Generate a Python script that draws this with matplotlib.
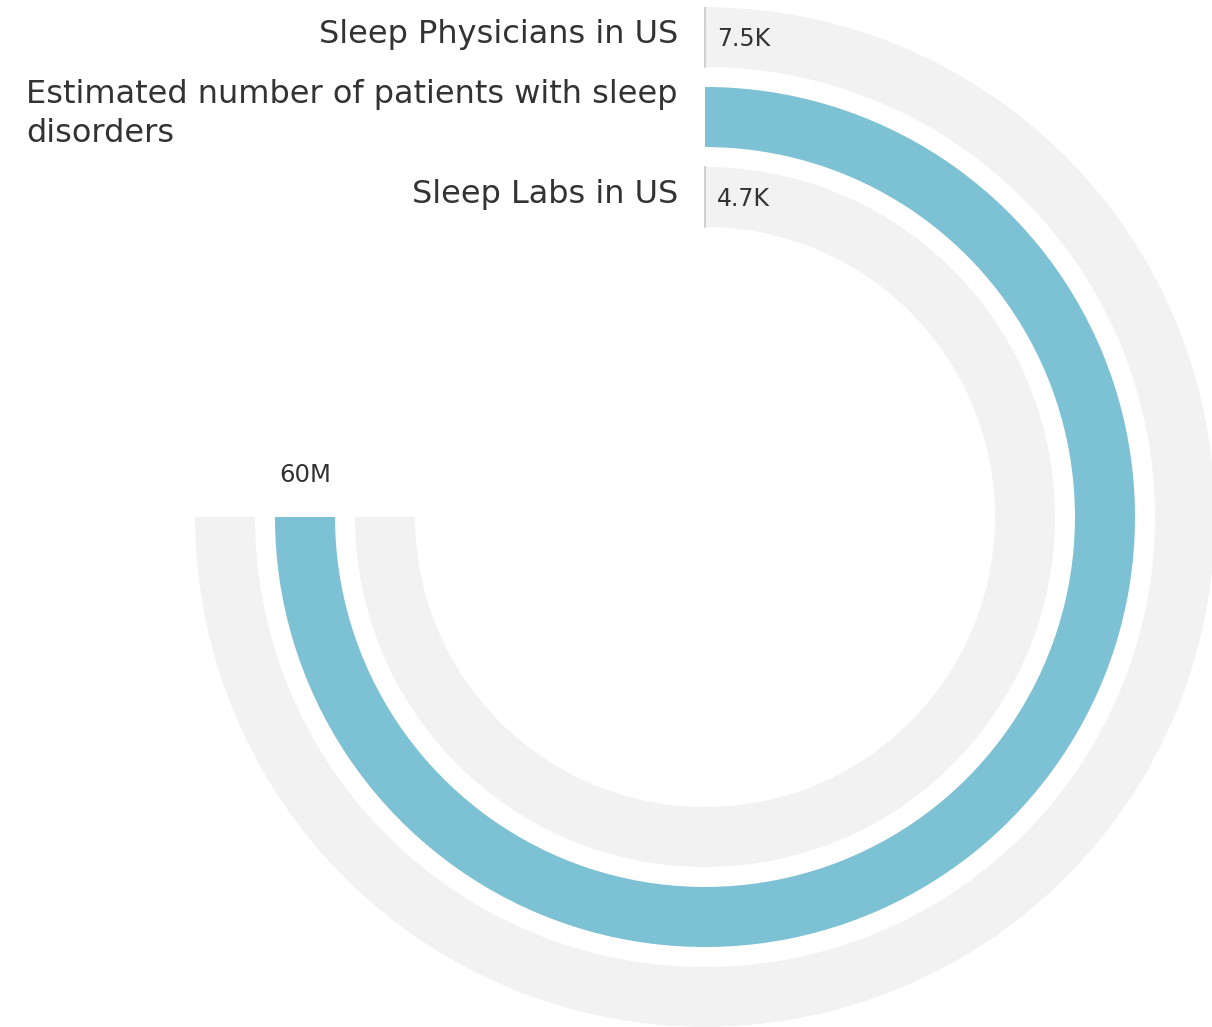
import numpy as np
import matplotlib.pyplot as plt

labels = ['Sleep Physicians in US',
          'Estimated number of patients with sleep\ndisorders',
          'Sleep Labs in US']
values = [7500, 60000000, 4700]
value_text = ['7.5K', '60M', '4.7K']
colors = ['#d9d9d9', '#7cc1d4', '#d9d9d9']

max_val = 60000000
full = 1.5 * np.pi
r_outer = [450, 370, 290]
ring_w = 60

plt.rcParams['font.family'] = ['DejaVu Sans']

fig = plt.figure(figsize=(12.12, 10.27), dpi=100)
W, H = 1212, 1027
ax = fig.add_axes([195 / W, 0 / H, 1020 / W, 1020 / H], projection='polar')
ax.set_theta_zero_location('N')
ax.set_theta_direction(-1)
ax.set_ylim(0, 510)
ax.set_axis_off()

for i in range(3):
    # grey track behind each ring
    ax.bar(0, ring_w, width=full, bottom=r_outer[i], align='edge',
           color='#f2f2f2', edgecolor='none')
    w = values[i] / max_val * full
    if i == 1:
        ax.bar(0, ring_w, width=w, bottom=r_outer[i], align='edge',
               color=colors[i], edgecolor='none')
    else:
        ax.bar(0, ring_w, width=w, bottom=r_outer[i], align='edge',
               color=colors[i], edgecolor='#d0d0d0', linewidth=1.2)
    rm = r_outer[i] + ring_w / 2
    ax.annotate(labels[i], xy=(0, rm), xytext=(-27, 3), textcoords='offset pixels',
                ha='right', va='center', multialignment='left',
                fontsize=23, color='#333333', linespacing=1.35)
    if i == 1:
        ax.annotate(value_text[i], xy=(w, rm), xytext=(0, 42), textcoords='offset pixels',
                    ha='center', va='center', fontsize=17.5, color='#333333')
    else:
        ax.annotate(value_text[i], xy=(w, rm), xytext=(12, -2), textcoords='offset pixels',
                    ha='left', va='center', fontsize=17, color='#333333')

fig.savefig('out.png', dpi=100)
